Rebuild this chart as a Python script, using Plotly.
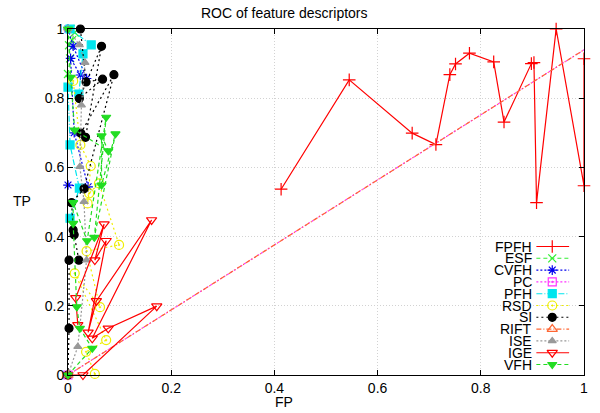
import plotly.graph_objects as go

# ---------------- data ----------------
series_names = ["FPFH", "ESF", "CVFH", "PC", "PFH", "RSD", "SI", "RIFT", "ISE", "IGE", "VFH"]

fpfh_fp = [0.413, 0.545, 0.667, 0.713, 0.740, 0.751, 0.778, 0.825, 0.845, 0.898, 0.903, 0.908, 0.946, 1.0, 1.0]
fpfh_tp = [0.537, 0.853, 0.699, 0.666, 0.868, 0.899, 0.930, 0.905, 0.731, 0.900, 0.903, 0.498, 1.0, 0.547, 0.914]

esf_fp = [0.0, 0.004, 0.002, 0.008, 0.013, 0.005]
esf_tp = [0.87, 0.915, 0.953, 0.968, 0.99, 1.0]

cvfh_fp = [0.0, 0.039, 0.012, 0.005, 0.024, 0.036, 0.010, 0.0]
cvfh_tp = [0.549, 0.544, 0.70, 0.915, 0.867, 0.857, 0.95, 1.0]

pc_fp = [0.0, 1.064]
pc_tp = [0.0, 1.0]

pfh_fp = [0.004, 0.022, 0.004, 0.0, 0.021, 0.029, 0.045, 0.004]
pfh_tp = [0.453, 0.540, 0.665, 0.832, 0.812, 0.928, 0.954, 1.0]

rsd_fp = [0.052, 0.035, 0.074, 0.013, 0.062, 0.036, 0.099, 0.060, 0.041, 0.038, 0.044, 0.024, 0.010]
rsd_tp = [0.003, 0.067, 0.101, 0.294, 0.196, 0.358, 0.376, 0.554, 0.525, 0.496, 0.604, 0.665, 0.85]

si_fp = [0.0, 0.002, 0.002, 0.021, 0.012, 0.010, 0.007, 0.031, 0.089, 0.025, 0.034, 0.065, 0.022, 0.067, 0.035, 0.024]
si_tp = [0.0, 0.135, 0.332, 0.332, 0.405, 0.419, 0.498, 0.538, 0.868, 0.699, 0.687, 0.950, 0.799, 0.855, 0.847, 1.0]

rift_fp = [0.0, 1.064]
rift_tp = [0.0, 1.0]

ise_fp = [0.0, 0.019, 0.036, 0.031, 0.023, 0.026, 0.033, 0.022, 0.0]
ise_tp = [0.0, 0.082, 0.332, 0.501, 0.602, 0.780, 0.903, 0.954, 1.0]

ige_fp = [0.0, 0.029, 0.172, 0.078, 0.047, 0.162, 0.055, 0.039, 0.074, 0.052, 0.070, 0.015, 0.019]
ige_tp = [0.0, 0.0, 0.199, 0.135, 0.106, 0.448, 0.214, 0.123, 0.388, 0.332, 0.436, 0.223, 0.145]

vfh_fp = [0.0, 0.047, 0.023, 0.017, 0.010, 0.010, 0.037, 0.074, 0.051, 0.092, 0.065, 0.065, 0.078, 0.013, 0.005, 0.0]
vfh_tp = [0.0, 0.077, 0.135, 0.197, 0.438, 0.498, 0.388, 0.745, 0.398, 0.697, 0.549, 0.691, 0.648, 0.708, 0.86, 1.0]

x_ticks = [0, 0.2, 0.4, 0.6, 0.8, 1]
x_tick_text = ["0", "0.2", "0.4", "0.6", "0.8", "1"]
y_ticks = [0, 0.2, 0.4, 0.6, 0.8, 1]
y_tick_text = ["0", "0.2", "0.4", "0.6", "0.8", "1"]

data = {
    "FPFH": (fpfh_fp, fpfh_tp), "ESF": (esf_fp, esf_tp), "CVFH": (cvfh_fp, cvfh_tp),
    "PC": (pc_fp, pc_tp), "PFH": (pfh_fp, pfh_tp), "RSD": (rsd_fp, rsd_tp),
    "SI": (si_fp, si_tp), "RIFT": (rift_fp, rift_tp), "ISE": (ise_fp, ise_tp),
    "IGE": (ige_fp, ige_tp), "VFH": (vfh_fp, vfh_tp),
}

# ---------------- styles ----------------
styles = {
    "FPFH": dict(color="#ff0000", dash="solid", symbol="cross-thin", size=9),
    "ESF": dict(color="#33ee33", dash="4px,3px", symbol="x-thin", size=8),
    "CVFH": dict(color="#0000ee", dash="2px,2px", symbol="asterisk", size=8),
    "PC": dict(color="#ff33ff", dash="2px,2px", symbol="square-open-dot", size=8),
    "PFH": dict(color="#00e5ee", dash="6px,2px,1px,2px", symbol="square", size=8),
    "RSD": dict(color="#eeee00", dash="2px,3px", symbol="circle-open-dot", size=9),
    "SI": dict(color="#000000", dash="2px,3px", symbol="circle", size=8),
    "RIFT": dict(color="#ff6633", dash="5px,2px,1px,2px", symbol="triangle-up-open", size=9),
    "ISE": dict(color="#999999", dash="2px,2px", symbol="triangle-up", size=7),
    "IGE": dict(color="#ff0000", dash="solid", symbol="triangle-down-open", size=9),
    "VFH": dict(color="#22dd22", dash="4px,3px", symbol="triangle-down", size=8),
}

fig = go.Figure()

for name in series_names:
    xs, ys = data[name]
    st = styles[name]
    fig.add_trace(go.Scatter(
        x=xs, y=ys, mode="lines+markers", name=name, showlegend=False,
        line=dict(color=st["color"], width=1.2, dash=st["dash"]),
        marker=dict(symbol=st["symbol"], size=st["size"], color=st["color"],
                    line=dict(color=st["color"], width=1.2)),
        cliponaxis=False,
    ))

# ---------------- manual gnuplot-style key (overlay axes in window pixels) ----------------
key_top, key_step = 246.5, 11.8
key_text_right, key_line_x0, key_line_x1, key_mark_x = 537, 540, 573, 556
annotations = []
for i, name in enumerate(series_names):
    st = styles[name]
    yk = key_top + i * key_step
    fig.add_trace(go.Scatter(
        x=[key_line_x0, key_line_x1], y=[yk, yk], mode="lines", showlegend=False,
        xaxis="x2", yaxis="y2", hoverinfo="skip",
        line=dict(color=st["color"], width=1.1, dash=st["dash"]),
    ))
    fig.add_trace(go.Scatter(
        x=[key_mark_x], y=[yk], mode="markers", showlegend=False,
        xaxis="x2", yaxis="y2", hoverinfo="skip",
        marker=dict(symbol=st["symbol"], size=st["size"], color=st["color"],
                    line=dict(color=st["color"], width=1.2)),
    ))
    annotations.append(dict(
        x=key_text_right, y=yk, xref="x2", yref="y2", text=name, showarrow=False,
        xanchor="right", yanchor="middle", font=dict(size=14, color="#000000"),
        borderpad=0,
    ))

annotations += [
    dict(x=(286 - 68) / 520, y=(375 - 13) / 346, xref="paper", yref="paper",
         text="ROC of feature descriptors", showarrow=False, borderpad=0,
         xanchor="center", yanchor="middle", font=dict(size=14, color="#000000")),
    dict(x=(286 - 68) / 520, y=(375 - 402) / 346, xref="paper", yref="paper",
         text="FP", showarrow=False, xanchor="center", yanchor="middle", borderpad=0,
         font=dict(size=14, color="#000000")),
    dict(x=(22 - 68) / 520, y=(375 - 201) / 346, xref="paper", yref="paper",
         text="TP", showarrow=False, xanchor="center", yanchor="middle", borderpad=0,
         font=dict(size=14, color="#000000")),
]

axis_common = dict(
    showline=True, linecolor="#000000", linewidth=1, mirror="ticks",
    ticks="inside", ticklen=5, tickcolor="#000000", tickwidth=1,
    showgrid=True, gridcolor="#d2d2d2", griddash="1px,2px", gridwidth=1,
    zeroline=False, tickfont=dict(size=14, color="#000000",
                                  family="Liberation Sans, Arial, sans-serif"),
)

# plot area at window pixels x 68..588, y 29..375 (body margin removed below)
fig.update_layout(
    width=600, height=413,
    margin=dict(l=68, r=12, t=29, b=38),
    paper_bgcolor="#ffffff", plot_bgcolor="#ffffff",
    font=dict(family="Liberation Sans, Arial, sans-serif", size=14, color="#000000"),
    showlegend=False,
    xaxis=dict(range=[0, 1], tickvals=x_ticks, ticktext=x_tick_text, **axis_common),
    yaxis=dict(range=[0, 1], tickvals=y_ticks, ticktext=y_tick_text, **axis_common),
    xaxis2=dict(overlaying="x", range=[68, 588], visible=False, anchor="y2"),
    yaxis2=dict(overlaying="y", range=[375, 29], visible=False, anchor="x2"),
    annotations=annotations,
)

fig.write_html("out.html", config={"displayModeBar": False},
               post_script="document.body.style.margin='0px';document.body.style.overflow='hidden';")
